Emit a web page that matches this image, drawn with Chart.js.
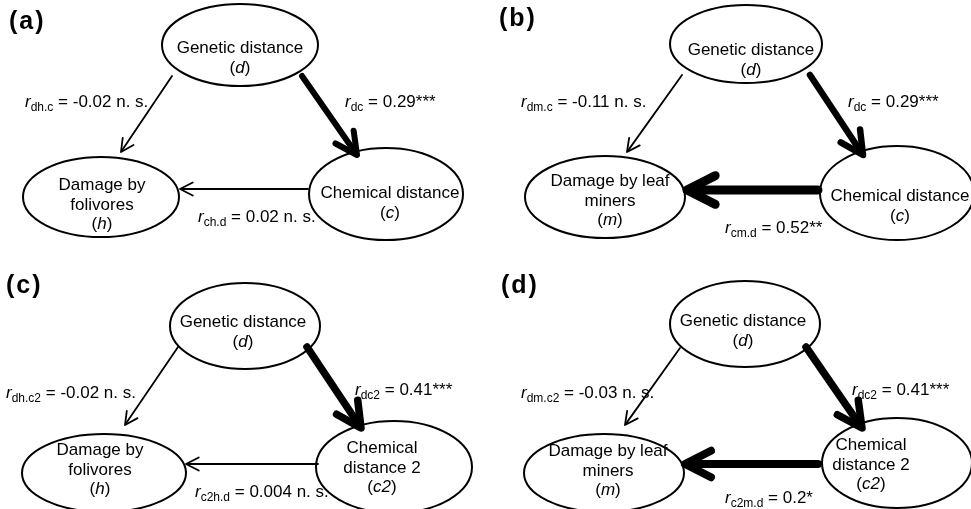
<!DOCTYPE html>
<html>
<head>
<meta charset="utf-8">
<script src="https://cdn.jsdelivr.net/npm/chart.js@4/dist/chart.umd.min.js"></script>
<style>
  html, body { margin: 0; padding: 0; background: #fff; }
  #wrap { width: 971px; height: 509px; }
</style>
</head>
<body>
<div id="wrap"><canvas id="paths" width="971" height="509"></canvas></div>
<script>
// --- data ---
const panelTags = ['(a)', '(b)', '(c)', '(d)'];
const geneticName = 'Genetic distance';
const geneticSymbol = 'd';
const responseNames = [['Damage by', 'folivores'], ['Damage by leaf', 'miners'], ['Damage by', 'folivores'], ['Damage by leaf', 'miners']];
const responseSymbols = ['h', 'm', 'h', 'm'];
const chemNames = [['Chemical distance'], ['Chemical distance'], ['Chemical', 'distance 2'], ['Chemical', 'distance 2']];
const chemSymbols = ['c', 'c', 'c2', 'c2'];

// genetic -> response (partial, controlling chemistry)
const rGenResp = [-0.02, -0.11, -0.02, -0.03];
const subGenResp = ['dh.c', 'dm.c', 'dh.c2', 'dm.c2'];
const sigGenResp = ['n. s.', 'n. s.', 'n. s.', 'n. s.'];
// genetic -> chemistry
const rGenChem = [0.29, 0.29, 0.41, 0.41];
const subGenChem = ['dc', 'dc', 'dc2', 'dc2'];
const sigGenChem = ['***', '***', '***', '***'];
// chemistry -> response (partial, controlling genetics)
const rChemResp = [0.02, 0.52, 0.004, 0.2];
const subChemResp = ['ch.d', 'cm.d', 'c2h.d', 'c2m.d'];
const sigChemResp = ['n. s.', '**', 'n. s.', '*'];

// --- layout (pixel units of the 971x509 figure) ---
const layout = [
  { tag: [9, 29],
    D: { e: [240, 45, 78, 41], t: [240, 53] },
    R: { e: [101, 197, 78, 40], t: [102, 190] },
    C: { e: [386, 194, 77, 46], t: [390, 198] },
    aGR: [[172, 76], [121, 152]], aGC: [[302, 76], [357, 155]], aCR: [[308, 189], [180, 189]],
    lGR: [25, 107], lGC: [345, 107], lCR: [198, 222] },
  { tag: [499, 26],
    D: { e: [746, 44, 76, 39], t: [751, 55] },
    R: { e: [605, 197, 80, 41], t: [610, 186] },
    C: { e: [897, 193, 77, 47], t: [900, 201] },
    aGR: [[682, 75], [627, 152]], aGC: [[810, 75], [863, 155]], aCR: [[818, 190], [687, 190]],
    lGR: [521, 107], lGC: [848, 107], lCR: [725, 233] },
  { tag: [6, 293],
    D: { e: [245, 326, 75, 43], t: [243, 327] },
    R: { e: [104, 473, 82, 39], t: [100, 455] },
    C: { e: [394, 467, 78, 46], t: [382, 453] },
    aGR: [[178, 347], [125, 425]], aGC: [[307, 347], [361, 428]], aCR: [[318, 464], [186, 464]],
    lGR: [6, 398], lGC: [355, 395], lCR: [195, 497] },
  { tag: [501, 293],
    D: { e: [745, 324, 75, 43], t: [743, 326] },
    R: { e: [604, 473, 80, 39], t: [608, 456] },
    C: { e: [897, 463, 75, 45], t: [871, 450] },
    aGR: [[680, 348], [625, 425]], aGC: [[806, 347], [862, 428]], aCR: [[818, 464], [685, 464]],
    lGR: [521, 398], lGC: [852, 395], lCR: [725, 503] }
];
// arrow stroke widths per panel: [gen->resp, gen->chem, chem->resp]
const arrowWidths = [[1.8, 6, 1.8], [1.8, 6.5, 9], [1.8, 7.5, 1.8], [1.8, 7.5, 8]];

const FONT = '"Liberation Sans", Arial, sans-serif';
const LINE_H = 19.5;

function arrowSets(from, to, lw) {
  const dx = to[0] - from[0], dy = to[1] - from[1];
  const len = Math.hypot(dx, dy);
  const ux = dx / len, uy = dy / len;
  const th = Math.atan2(-uy, -ux);
  const head = 10 + 2.4 * lw, half = 27 * Math.PI / 180;
  const w1 = [to[0] + head * Math.cos(th + half), to[1] + head * Math.sin(th + half)];
  const w2 = [to[0] + head * Math.cos(th - half), to[1] + head * Math.sin(th - half)];
  const back = lw * 0.6;
  const base = { type: 'scatter', showLine: true, borderColor: '#000', borderWidth: lw,
    borderCapStyle: 'round', borderJoinStyle: 'round', pointRadius: 0, tension: 0, clip: false };
  return [
    Object.assign({}, base, { data: [{ x: from[0], y: from[1] }, { x: to[0] - ux * back, y: to[1] - uy * back }] }),
    Object.assign({}, base, { data: [{ x: w1[0], y: w1[1] }, { x: to[0], y: to[1] }, { x: w2[0], y: w2[1] }] })
  ];
}

const datasets = [];
layout.forEach((p, i) => {
  datasets.push(...arrowSets(p.aGR[0], p.aGR[1], arrowWidths[i][0]));
  datasets.push(...arrowSets(p.aGC[0], p.aGC[1], arrowWidths[i][1]));
  datasets.push(...arrowSets(p.aCR[0], p.aCR[1], arrowWidths[i][2]));
});

function drawRuns(ctx, runs, x, y, align) {
  let total = 0;
  runs.forEach(r => { ctx.font = r.font; r.w = ctx.measureText(r.t).width; total += r.w; });
  let cx = align === 'center' ? x - total / 2 : x;
  runs.forEach(r => {
    ctx.font = r.font;
    ctx.fillText(r.t, cx, y + (r.dy || 0));
    cx += r.w;
  });
}

const reg = '17px ' + FONT, ital = 'italic 17px ' + FONT, small = '12px ' + FONT;

function nodeLines(names, sym) {
  const lines = names.map(n => [{ t: n, font: reg }]);
  lines.push([{ t: '(', font: reg }, { t: sym, font: ital }, { t: ')', font: reg }]);
  return lines;
}

function coefRuns(sub, r, sig) {
  const tail = sig.indexOf('n.') === 0 ? ' ' + sig : sig;
  return [{ t: 'r', font: ital }, { t: sub, font: small, dy: 4 }, { t: ' = ' + String(r) + tail, font: reg }];
}

const diagramPlugin = {
  id: 'diagram',
  afterDatasetsDraw(chart) {
    const ctx = chart.ctx;
    const sx = chart.scales.x, sy = chart.scales.y;
    const px = v => sx.getPixelForValue(v), py = v => sy.getPixelForValue(v);
    ctx.save();
    ctx.fillStyle = '#000';
    ctx.strokeStyle = '#000';
    ctx.textBaseline = 'alphabetic';
    layout.forEach((p, i) => {
      // ellipses
      [p.D, p.R, p.C].forEach(n => {
        const [cx, cy, rx, ry] = n.e;
        ctx.beginPath();
        ctx.lineWidth = 2;
        ctx.ellipse(px(cx), py(cy), Math.abs(px(cx + rx) - px(cx)), Math.abs(py(cy + ry) - py(cy)), 0, 0, Math.PI * 2);
        ctx.stroke();
      });
      // node texts
      const nodes = [
        [p.D, nodeLines([geneticName], geneticSymbol)],
        [p.R, nodeLines(responseNames[i], responseSymbols[i])],
        [p.C, nodeLines(chemNames[i], chemSymbols[i])]
      ];
      nodes.forEach(([n, lines]) => {
        lines.forEach((runs, k) => drawRuns(ctx, runs, px(n.t[0]), py(n.t[1] + k * LINE_H), 'center'));
      });
      // coefficients
      drawRuns(ctx, coefRuns(subGenResp[i], rGenResp[i], sigGenResp[i]), px(p.lGR[0]), py(p.lGR[1]), 'left');
      drawRuns(ctx, coefRuns(subGenChem[i], rGenChem[i], sigGenChem[i]), px(p.lGC[0]), py(p.lGC[1]), 'left');
      drawRuns(ctx, coefRuns(subChemResp[i], rChemResp[i], sigChemResp[i]), px(p.lCR[0]), py(p.lCR[1]), 'left');
      // panel tag
      ctx.font = 'bold 25px ' + FONT;
      ctx.letterSpacing = '2px';
      ctx.fillText(panelTags[i], px(p.tag[0]), py(p.tag[1]));
      ctx.letterSpacing = '0px';
    });
    ctx.restore();
  }
};

new Chart(document.getElementById('paths'), {
  type: 'scatter',
  data: { datasets },
  options: {
    responsive: false,
    animation: false,
    layout: { padding: 0 },
    plugins: { legend: { display: false }, tooltip: { enabled: false } },
    scales: {
      x: { type: 'linear', min: 0, max: 971, display: false },
      y: { type: 'linear', min: 0, max: 509, reverse: true, display: false }
    }
  },
  plugins: [diagramPlugin]
});
</script>
</body>
</html>
